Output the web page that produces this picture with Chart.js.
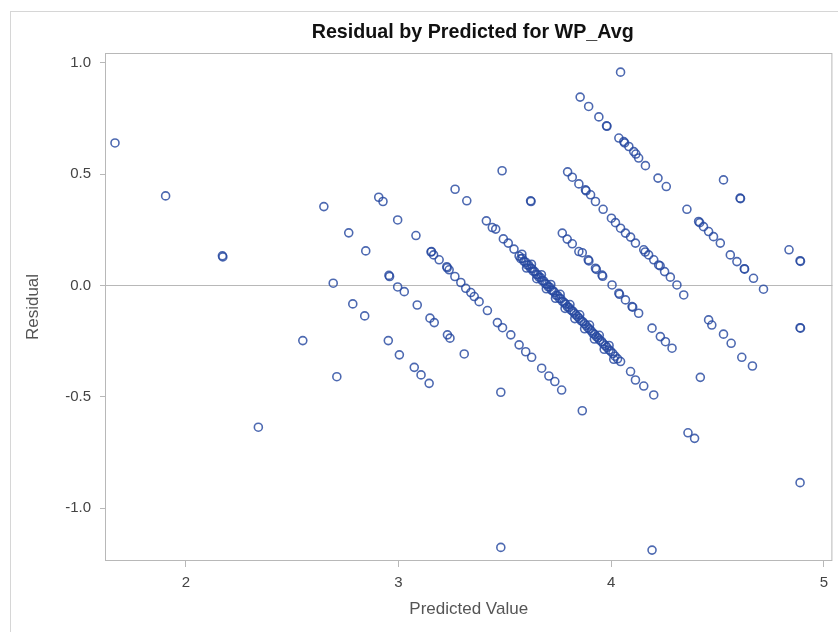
<!DOCTYPE html>
<html>
<head>
<meta charset="utf-8">
<script src="https://cdn.jsdelivr.net/npm/chart.js@4/dist/chart.umd.min.js"></script>
<style>
  html,body{margin:0;padding:0;background:#fff;}
  #wrap{position:relative;width:838px;height:632px;overflow:hidden;}
  #frame{position:absolute;left:10px;top:11px;width:900px;height:700px;border:1px solid #d6d6d6;}
  canvas{position:absolute;left:0;top:0;}
</style>
</head>
<body>
<div id="wrap"><div id="frame"></div><canvas id="c" width="838" height="632"></canvas></div>
<script>
/* ---------- textos ---------- */
const chartTitle = 'Residual by Predicted for WP_Avg';
const xTitle = 'Predicted Value';
const yTitle = 'Residual';

/* ---------- ticks ---------- */
const xTicks = [2, 3, 4, 5];
const yTicks = [-1.0, -0.5, 0.0, 0.5, 1.0];

/* ---------- puntos ---------- */
const predicted = [
  // diagonal ~2.3 + sueltos
  1.667, 1.905, 2.172, 2.174, 2.341, 2.550, 2.710, 3.481,
  // ~2.7
  2.693, 2.785, 2.841, 2.952, 3.004, 3.074, 3.106, 3.144,
  // ~3.0
  2.649, 2.766, 2.846, 2.955, 2.958, 2.996, 3.027, 3.088, 3.148, 3.168, 3.230, 3.242, 3.309, 3.481, 4.192,
  // ~3.3
  2.907, 2.927, 2.996, 3.082, 3.155, 3.153, 3.165, 3.191, 3.227, 3.229, 3.238, 3.265, 3.293, 3.316, 3.340,
  3.356, 3.379, 3.418, 3.465, 3.489, 3.528, 3.567, 3.598, 3.626, 3.673, 3.707, 3.735, 3.767, 3.864,
  // ~3.7 (banda densa)
  3.266, 3.321, 3.413, 3.441, 3.457, 3.493, 3.516, 3.543,
  3.567, 3.575, 3.582, 3.590, 3.598, 3.605, 3.612, 3.620, 3.627, 3.633, 3.640, 3.648, 3.655, 3.661,
  3.668, 3.675, 3.682, 3.690, 3.697, 3.704, 3.711, 3.719, 3.726, 3.733, 3.741, 3.748, 3.756, 3.763,
  3.771, 3.779, 3.786, 3.794, 3.802, 3.810, 3.818, 3.826, 3.834, 3.842, 3.850, 3.858, 3.866, 3.874,
  3.882, 3.890, 3.898, 3.906, 3.914, 3.922, 3.930, 3.938, 3.946, 3.955, 3.963, 3.972, 3.980, 3.990,
  3.998, 4.008, 4.018, 4.030, 4.044,
  3.580, 3.602, 3.625, 3.650, 3.672, 3.695, 3.716, 3.738, 3.760, 3.783, 3.806, 3.829, 3.852, 3.875,
  3.898, 3.921, 3.944, 3.967, 3.990, 4.012,
  4.091, 4.114, 4.153, 4.200, 4.361, 4.392,
  // ~4.0
  3.487, 3.621, 3.623, 3.770, 3.793, 3.817, 3.848, 3.864, 3.892, 3.895, 3.926, 3.930, 3.957, 3.960,
  4.004, 4.036, 4.039, 4.067, 4.098, 4.101, 4.129, 4.192, 4.231, 4.255, 4.286, 4.419, 4.888,
  // ~4.3
  3.795, 3.817, 3.848, 3.879, 3.882, 3.903, 3.926, 3.962, 4.001, 4.020, 4.044, 4.067, 4.091, 4.114,
  4.153, 4.160, 4.176, 4.200, 4.223, 4.230, 4.251, 4.278, 4.309, 4.341, 4.458, 4.473, 4.528, 4.564,
  4.614, 4.664,
  // ~4.7
  3.854, 3.894, 3.942, 3.978, 3.980, 4.036, 4.059, 4.063, 4.083, 4.106, 4.116, 4.129, 4.161, 4.220,
  4.259, 4.356, 4.411, 4.416, 4.434, 4.458, 4.481, 4.513, 4.560, 4.591, 4.626, 4.627, 4.669, 4.716,
  4.888, 4.890,
  // ~5.0
  4.044, 4.528, 4.606, 4.608, 4.836, 4.888, 4.890
];
const residual = [
  0.640, 0.402, 0.133, 0.128, -0.637, -0.248, -0.410, -1.177,
  0.010, -0.083, -0.137, -0.248, -0.312, -0.368, -0.402, -0.440,
  0.354, 0.236, 0.155, 0.045, 0.040, -0.007, -0.028, -0.088, -0.147, -0.167, -0.222, -0.237, -0.308, -0.480, -1.189,
  0.396, 0.377, 0.294, 0.224, 0.152, 0.150, 0.137, 0.115, 0.084, 0.079, 0.070, 0.040, 0.013, -0.013, -0.032,
  -0.050, -0.073, -0.113, -0.167, -0.190, -0.222, -0.267, -0.298, -0.323, -0.372, -0.407, -0.432, -0.470, -0.563,
  0.432, 0.380, 0.290, 0.260, 0.253, 0.209, 0.190, 0.163,
  0.132, 0.120, 0.122, 0.108, 0.104, 0.092, 0.091, 0.078, 0.075, 0.064, 0.062, 0.050, 0.047, 0.036,
  0.035, 0.022, 0.020, 0.008, 0.005, -0.006, -0.008, -0.021, -0.024, -0.031, -0.044, -0.046, -0.058, -0.060,
  -0.072, -0.077, -0.084, -0.096, -0.100, -0.110, -0.115, -0.124, -0.132, -0.140, -0.148, -0.158, -0.163, -0.172,
  -0.180, -0.190, -0.196, -0.204, -0.215, -0.220, -0.230, -0.236, -0.246, -0.252, -0.262, -0.270, -0.278, -0.290,
  -0.296, -0.306, -0.318, -0.330, -0.342,
  0.140, 0.078, 0.095, 0.030, 0.048, -0.015, 0.004, -0.058, -0.040, -0.103, -0.086, -0.149, -0.132, -0.195,
  -0.178, -0.241, -0.224, -0.287, -0.270, -0.332,
  -0.387, -0.425, -0.452, -0.492, -0.662, -0.687,
  0.515, 0.380, 0.377, 0.235, 0.208, 0.187, 0.152, 0.147, 0.115, 0.110, 0.077, 0.072, 0.046, 0.041,
  0.002, -0.035, -0.040, -0.065, -0.095, -0.098, -0.125, -0.192, -0.230, -0.253, -0.282, -0.413, -0.886,
  0.510, 0.486, 0.456, 0.429, 0.425, 0.407, 0.377, 0.342, 0.302, 0.282, 0.257, 0.235, 0.217, 0.190,
  0.160, 0.150, 0.137, 0.115, 0.092, 0.088, 0.062, 0.037, 0.002, -0.043, -0.155, -0.178, -0.219, -0.260,
  -0.323, -0.362,
  0.846, 0.804, 0.757, 0.717, 0.715, 0.662, 0.646, 0.640, 0.624, 0.601, 0.590, 0.572, 0.538, 0.482,
  0.444, 0.342, 0.287, 0.282, 0.264, 0.242, 0.219, 0.190, 0.137, 0.107, 0.075, 0.073, 0.032, -0.017,
  -0.190, -0.192,
  0.958, 0.474, 0.392, 0.390, 0.160, 0.111, 0.108
];

const points = predicted.map((x, i) => ({x, y: residual[i]}));

/* ---------- marco del área + título ---------- */
const plotFrame = {
  id: 'plotFrame',
  beforeDatasetsDraw(chart){
    const {ctx, chartArea:a} = chart;
    ctx.save();
    ctx.strokeStyle = '#b8b8b8'; ctx.lineWidth = 1;
    ctx.strokeRect(a.left + .5, a.top + .5, a.right - a.left - 1, a.bottom - a.top - 1);
    ctx.restore();
  },
  afterDraw(chart){
    const {ctx, chartArea:a} = chart;
    ctx.save();
    ctx.fillStyle = '#111';
    ctx.font = 'bold 19.7px "Liberation Sans", Arial, sans-serif';
    ctx.textAlign = 'center'; ctx.textBaseline = 'middle';
    ctx.fillText(chartTitle, (a.left + a.right) / 2 + 4, 33);
    ctx.restore();
  }
};

const FONT = '"Liberation Sans", Arial, sans-serif';

new Chart(document.getElementById('c'), {
  type: 'scatter',
  data: {
    datasets: [{
      data: points,
      pointStyle: 'circle',
      pointRadius: 4,
      pointHoverRadius: 4,
      pointBorderWidth: 1.6,
      pointBackgroundColor: 'rgba(0,0,0,0)',
      pointBorderColor: 'rgba(38,72,160,0.82)'
    }]
  },
  options: {
    responsive: false,
    animation: false,
    events: [],
    layout: {padding: {top: 53, right: 1, left: 0, bottom: 0}},
    plugins: {legend: {display: false}, tooltip: {enabled: false}, title: {display: false}},
    scales: {
      x: {
        type: 'linear', min: 1.62, max: 5.04,
        afterBuildTicks: s => { s.ticks = xTicks.map(v => ({value: v})); },
        afterFit: s => { s.height = 71; s.paddingLeft = 0; s.paddingRight = 0; },
        border: {display: false},
        grid: {drawOnChartArea: false, drawTicks: true, tickLength: 6, tickColor: '#b8b8b8'},
        ticks: {padding: 7, color: '#444', font: {family: FONT, size: 15}, callback: v => String(v)},
        title: {display: true, text: xTitle, color: '#555', font: {family: FONT, size: 17}, padding: {top: 0, bottom: 12}}
      },
      y: {
        type: 'linear', min: -1.238, max: 1.044,
        afterBuildTicks: s => { s.ticks = yTicks.map(v => ({value: v})); },
        afterFit: s => { s.width = 105; },
        border: {display: false},
        grid: {
          drawOnChartArea: true, drawTicks: true, tickLength: 5, tickColor: '#b8b8b8',
          color: c => (c.tick && c.tick.value === 0) ? '#b8b8b8' : 'rgba(0,0,0,0)'
        },
        ticks: {padding: 9, color: '#444', font: {family: FONT, size: 15}, callback: v => v.toFixed(1)},
        title: {display: true, text: yTitle, color: '#555', font: {family: FONT, size: 17}, padding: {top: 23, bottom: 0}}
      }
    }
  },
  plugins: [plotFrame]
});
</script>
</body>
</html>
